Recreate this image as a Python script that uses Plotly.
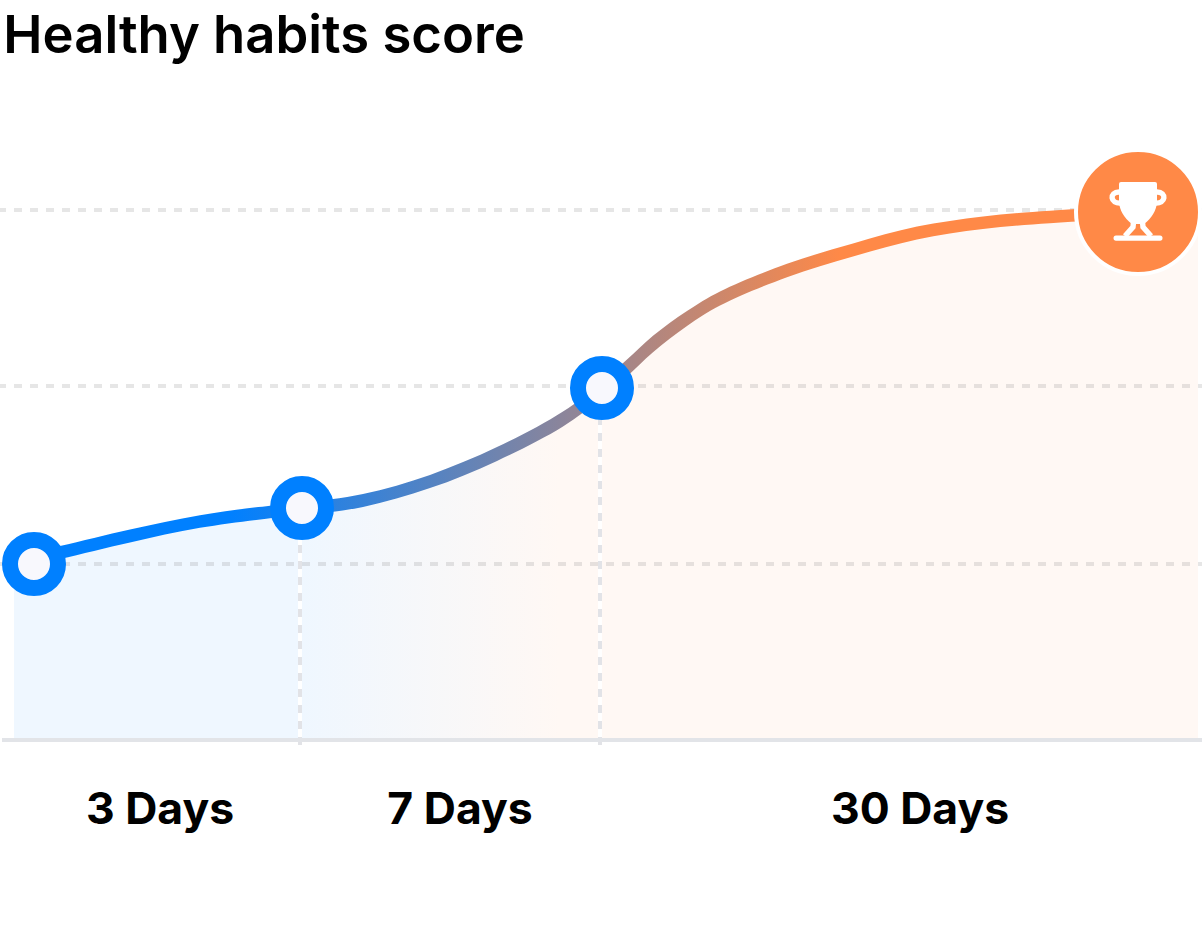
import numpy as np
import plotly.graph_objects as go

# Score curve: position along the timeline and height above the baseline
curve_x = [14, 60, 130, 200, 270, 302, 363, 430, 497, 563, 602, 627, 653, 687, 720, 787, 853, 917, 983, 1050, 1138, 1198]
curve_score = [177.5, 187.5, 204, 218.5, 228, 231, 239.5, 258.5, 286, 321, 350, 372, 396, 421.5, 441.5, 469.5, 490, 507, 517.3, 523, 528, 530]

# Milestones on the curve and the reward at its end
milestone_x = [34, 302, 602]
milestone_score = [176, 232, 352]
reward_x = [1138]
reward_score = [528]

period_labels = ["3 Days", "7 Days", "30 Days"]
period_centres = [160, 460, 920]
period_edges = [300, 600]
period_tops = [232, 352]
grid_scores = [176, 354, 530]

BLUE = "#0080ff"
ORANGE = "#ff8947"
GRID = "rgba(130,130,130,0.2)"
LINE_WIDTH = 12.5
FONT = "Inter"

xs = np.array(curve_x, dtype=float)
ys = np.array(curve_score, dtype=float)
slope = np.gradient(ys, xs)
half = LINE_WIDTH / 2 * np.sqrt(1 + slope ** 2)

fig = go.Figure()

# Soft area under the curve
fig.add_trace(go.Scatter(
    x=curve_x + [curve_x[-1], curve_x[0]], y=curve_score + [0, 0],
    mode="lines", line=dict(width=0), fill="toself", hoverinfo="skip",
    fillgradient=dict(type="horizontal", start=300, stop=560, colorscale=[
        [0, "#eff7ff"], [1, "#fff8f4"]]),
))

# Horizontal guides
for s in grid_scores:
    fig.add_trace(go.Scatter(x=[-2, 1202], y=[s, s], mode="lines", hoverinfo="skip",
                             line=dict(color=GRID, width=4, dash="8px,8px")))

# Period dividers
for x, top in zip(period_edges, period_tops):
    fig.add_trace(go.Scatter(x=[x, x], y=[0, top], mode="lines", hoverinfo="skip",
                             line=dict(color="#ffffff", width=4)))
    fig.add_trace(go.Scatter(x=[x, x], y=[-5, top], mode="lines", hoverinfo="skip",
                             line=dict(color="#e2e3e7", width=4, dash="8px,8px")))

# Baseline
fig.add_trace(go.Scatter(x=[2, 1202], y=[0, 0], mode="lines", hoverinfo="skip",
                         line=dict(color="#e2e4e8", width=4)))

# Curve, drawn as a ribbon so its colour can run from blue to orange
fig.add_trace(go.Scatter(
    x=np.r_[xs, xs[::-1]], y=np.r_[ys + half, (ys - half)[::-1]],
    mode="lines", line=dict(width=0, shape="spline", smoothing=1), fill="toself", hoverinfo="skip",
    fillgradient=dict(type="horizontal", start=230, stop=840, colorscale=[[0, BLUE], [1, ORANGE]]),
))

fig.add_trace(go.Scatter(
    x=milestone_x, y=milestone_score, mode="markers", cliponaxis=False, hoverinfo="skip",
    marker=dict(size=48, color="#f8f8fd", line=dict(color=BLUE, width=16)),
))
fig.add_trace(go.Scatter(
    x=reward_x, y=reward_score, mode="markers", cliponaxis=False, hoverinfo="skip",
    marker=dict(size=124, color=ORANGE, line=dict(color="#ffffff", width=4)),
))


def icon(path, **style):
    """Trophy part, sized in pixels around the reward marker."""
    return dict(type="path", path=path, xref="x", yref="y",
                xsizemode="pixel", ysizemode="pixel",
                xanchor=reward_x[0], yanchor=reward_score[0], **style)


solid = dict(fillcolor="#ffffff", line=dict(width=0))
stroke = dict(fillcolor="rgba(0,0,0,0)", line=dict(color="#ffffff", width=5.4))
shapes = [
    icon("M -17 30 L 17 30 Q 19 30 19 28 L 19 10 C 18.5 2 14 -6 6 -12 L -6 -12 "
         "C -14 -6 -18.5 2 -19 10 L -19 28 Q -19 30 -17 30 Z", **solid),
    icon("M -19 20 C -29 20 -28 8 -17 9", **stroke),
    icon("M 19 20 C 29 20 28 8 17 9", **stroke),
    icon("M -4.5 -10 L -5 -15 L -13 -24", **stroke),
    icon("M 4.5 -10 L 5 -15 L 13 -24", **stroke),
    icon("M -22 -23.5 L 22 -23.5 Q 24.5 -23.5 24.5 -26 Q 24.5 -28.7 22 -28.7 L -22 -28.7 "
         "Q -24.5 -28.7 -24.5 -26 Q -24.5 -23.5 -22 -23.5 Z", **solid),
]

fig.update_layout(
    width=1202, height=948, showlegend=False,
    margin=dict(l=0, r=0, t=0, b=198),
    paper_bgcolor="#ffffff", plot_bgcolor="#ffffff",
    font=dict(family=FONT, color="#000000"),
    title=dict(text="Healthy habits score", x=0.0028, xanchor="left", xref="paper",
               y=0.963, yanchor="middle", yref="container",
               font=dict(family=FONT, size=52.6, weight=600, color="#000000")),
    xaxis=dict(range=[0, 1202], showgrid=False, zeroline=False, showline=False,
               tickmode="array", tickvals=period_centres, ticktext=period_labels,
               ticks="outside", ticklen=20, tickcolor="rgba(0,0,0,0)",
               tickfont=dict(family=FONT, size=44.5, weight=700, color="#000000")),
    yaxis=dict(range=[-10, 740], showgrid=False, zeroline=False, showline=False,
               showticklabels=False, ticks=""),
    shapes=shapes,
)

fig.write_html("out.html")
